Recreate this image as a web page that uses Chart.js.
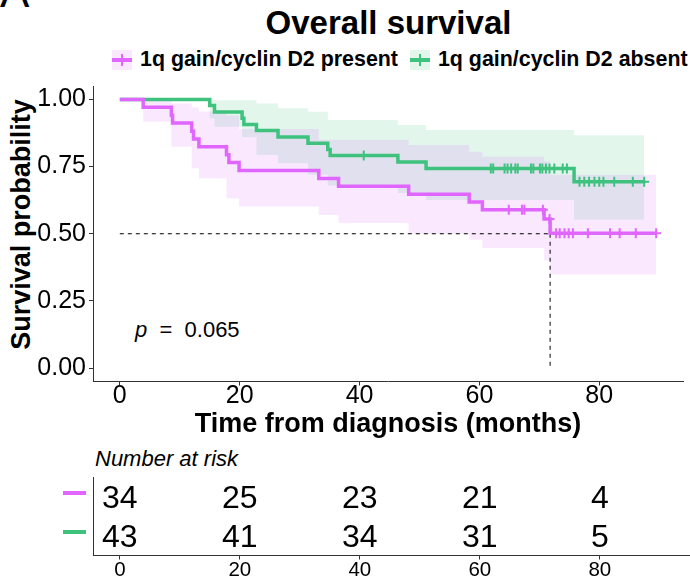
<!DOCTYPE html>
<html><head><meta charset="utf-8">
<script src="https://cdn.jsdelivr.net/npm/chart.js@4"></script>
<style>
body{margin:0;background:#fff;width:690px;height:580px;overflow:hidden;position:relative;font-family:'Liberation Sans',Arial,sans-serif;color:#000;}
canvas{position:absolute;left:0;}
.abs{position:absolute;white-space:nowrap;line-height:1;}
.mk{display:inline-block;position:relative;width:20px;height:20px;margin-right:8px;}
.mk .h{position:absolute;left:0;right:0;top:8px;height:4px;}
.mk .v{position:absolute;left:9px;width:2px;top:4px;height:12px;}
</style></head><body>
<div class="abs" style="left:0;top:-30px;font-size:44px;">A</div>
<div class="abs" style="left:93px;width:591px;top:6px;text-align:center;font-weight:bold;font-size:33px;">Overall survival</div>
<div class="abs" id="legend" style="left:112px;top:49px;font-weight:bold;font-size:21.4px;display:flex;align-items:center;"></div>
<div class="abs" style="left:-129px;width:300px;top:211px;text-align:center;font-weight:bold;font-size:27px;transform:rotate(-90deg);">Survival probability</div>
<div class="abs" style="left:135px;top:319px;font-size:22px;"><i>p</i>&nbsp; = &nbsp;0.065</div>
<div class="abs" style="left:95px;top:448px;font-size:22px;font-style:italic;">Number at risk</div>
<canvas id="main" width="690" height="450" style="top:0"></canvas>
<canvas id="risk" width="690" height="140" style="top:440px"></canvas>
<script>
// ---- data ----
const seriesNames = ['1q gain/cyclin D2 present', '1q gain/cyclin D2 absent'];
const presentTime = [0, 3.9, 8.6, 8.8, 12.0, 12.3, 13.2, 17.8, 18.2, 19.9, 33.2, 36.5, 48.2, 58.3, 60.5, 70.8, 71.8, 89.5];
const presentSurv = [1, 0.971, 0.941, 0.912, 0.882, 0.853, 0.824, 0.794, 0.765, 0.735, 0.706, 0.677, 0.647, 0.618, 0.589, 0.555, 0.502, 0.502];
const presentCensor = [64.9, 67.1, 67.5, 70.6, 71.7, 72.8, 73.4, 74.2, 74.9, 75.6, 78.1, 81.8, 83.4, 86.1, 89.5];
const presentUpperTime = [0, 3.9, 8.6, 12.0, 13.2, 17.8, 19.9, 33.2, 48.2, 58.3, 60.5, 70.8, 71.8, 89.5];
const presentUpper = [1, 0.995, 0.985, 0.97, 0.955, 0.94, 0.89, 0.85, 0.83, 0.805, 0.787, 0.77, 0.72, 0.72];
const presentLowerTime = [0, 3.9, 8.6, 12.0, 13.2, 17.8, 19.9, 33.2, 36.5, 48.2, 58.3, 60.5, 70.8, 71.8, 89.5];
const presentLower = [1, 0.917, 0.824, 0.744, 0.707, 0.632, 0.601, 0.57, 0.54, 0.50, 0.478, 0.447, 0.40, 0.348, 0.348];

const absentTime = [0, 15.0, 15.8, 20.4, 20.7, 22.8, 26.4, 31.4, 34.7, 35.1, 46.4, 51.1, 75.8, 87.5];
const absentSurv = [1, 0.977, 0.953, 0.930, 0.907, 0.884, 0.860, 0.837, 0.814, 0.791, 0.767, 0.743, 0.694, 0.694];
const absentCensor = [40.7, 61.9, 62.3, 64.2, 64.7, 65.3, 66.0, 66.4, 68.6, 69.0, 70.1, 70.5, 71.1, 71.7, 72.5, 73.9, 74.6, 76.7, 77.5, 78.3, 79.2, 80.0, 80.7, 82.5, 85.6, 87.5];
const absentUpperTime = [0, 15.0, 22.8, 26.4, 31.4, 34.7, 46.4, 51.1, 75.8, 87.5];
const absentUpper = [1, 0.997, 0.985, 0.967, 0.954, 0.923, 0.905, 0.886, 0.867, 0.867];
const absentLowerTime = [0, 15.0, 15.8, 20.4, 22.8, 26.4, 31.4, 34.7, 46.4, 51.1, 75.8, 87.5];
const absentLower = [1, 0.93, 0.898, 0.86, 0.793, 0.762, 0.72, 0.68, 0.652, 0.626, 0.552, 0.552];

const medianTime = 71.8;
const medianSurv = 0.5;
const xTicks = [0, 20, 40, 60, 80];
const yTicks = [0, 0.25, 0.5, 0.75, 1];
const riskTimes = [0, 20, 40, 60, 80];
const riskPresent = [34, 25, 23, 21, 4];
const riskAbsent = [43, 41, 34, 31, 5];

// ---- styling ----
const pink = '#E066FF', green = '#3EC27E';
const pinkBand = 'rgba(224,102,255,0.15)', greenBand = 'rgba(62,194,126,0.15)';
const FONT = "'Liberation Sans', Arial, sans-serif";
const X_MIN = -4.475, X_MAX = 93.975;

// legend
const lg = document.getElementById('legend');
[[seriesNames[0], pink, pinkBand], [seriesNames[1], green, greenBand]].forEach(([n, c, b], i) => {
  const s = document.createElement('span');
  s.style.display = 'inline-flex'; s.style.alignItems = 'center';
  if (i === 1) s.style.marginLeft = '12px';
  s.innerHTML = `<span class="mk" style="background:${b}"><span class="h" style="background:${c}"></span><span class="v" style="background:${c}"></span></span>${n}`;
  lg.appendChild(s);
});

const pts = (t, v) => t.map((x, i) => ({x, y: v[i]}));
const survAt = (times, surv, t) => { let s = surv[0]; times.forEach((tt, i) => { if (tt <= t) s = surv[i]; }); return s; };
const censorPts = (c, times, surv) => c.map(t => ({x: t, y: survAt(times, surv, t)}));

const lineDs = (data, color) => ({data, borderColor: color, borderWidth: 3.5, stepped: true, pointRadius: 0, fill: false});
const censDs = (data, color) => ({data, showLine: false, borderColor: color, backgroundColor: color, pointStyle: 'cross', pointRadius: 5, pointBorderWidth: 2, borderWidth: 2});
const bandDs = (data, fill, bg) => ({data, borderWidth: 0, borderColor: 'rgba(0,0,0,0)', backgroundColor: bg, stepped: true, pointRadius: 0, fill});

new Chart(document.getElementById('main'), {
  type: 'line',
  data: { datasets: [
    lineDs(pts(presentTime, presentSurv), pink),
    lineDs(pts(absentTime, absentSurv), green),
    censDs(censorPts(presentCensor, presentTime, presentSurv), pink),
    censDs(censorPts(absentCensor, absentTime, absentSurv), green),
    {data: [{x: 0, y: medianSurv}, {x: medianTime, y: medianSurv}], borderColor: '#000', borderWidth: 1, borderDash: [4, 4], pointRadius: 0, fill: false},
    {data: [{x: medianTime, y: medianSurv}, {x: medianTime, y: 0}], borderColor: '#000', borderWidth: 1, borderDash: [4, 4], pointRadius: 0, fill: false},
    bandDs(pts(presentUpperTime, presentUpper), '+1', pinkBand),
    bandDs(pts(presentLowerTime, presentLower), false, pinkBand),
    bandDs(pts(absentUpperTime, absentUpper), '+1', greenBand),
    bandDs(pts(absentLowerTime, absentLower), false, greenBand),
  ]},
  options: {
    responsive: false, animation: false, devicePixelRatio: 1,
    layout: {padding: {top: 86, right: 6, left: 0, bottom: 0}},
    plugins: {legend: {display: false}, tooltip: {enabled: false}},
    scales: {
      x: {
        type: 'linear', min: X_MIN, max: X_MAX,
        afterBuildTicks: s => { s.ticks = xTicks.map(v => ({value: v})); },
        afterFit: s => { s.height = 68.5; },
        ticks: {color: '#000', font: {family: FONT, size: 25, lineHeight: 1}, padding: -2, maxRotation: 0},
        grid: {drawOnChartArea: false, drawTicks: true, tickLength: 4, color: '#333'},
        border: {display: true, color: '#333', width: 1},
        title: {display: true, text: 'Time from diagnosis (months)', color: '#000', font: {family: FONT, size: 27, weight: 'bold', lineHeight: 1.2}, padding: {top: 0, bottom: 9}}
      },
      y: {
        type: 'linear', min: -0.05, max: 1.05,
        afterBuildTicks: s => { s.ticks = yTicks.map(v => ({value: v})); },
        afterFit: s => { s.width = 93; },
        ticks: {color: '#000', font: {family: FONT, size: 25}, padding: 3, callback: v => v.toFixed(2)},
        grid: {drawOnChartArea: false, drawTicks: true, tickLength: 4, color: '#333'},
        border: {display: true, color: '#333', width: 1}
      }
    }
  }
});

// risk table
const riskPlugin = {
  id: 'riskText',
  afterDatasetsDraw(chart) {
    const {ctx, scales: {x, y}} = chart;
    ctx.save();
    ctx.font = `32px ${FONT}`;
    ctx.textAlign = 'center';
    ctx.textBaseline = 'middle';
    chart.data.datasets.forEach((ds, di) => {
      ctx.fillStyle = '#000';
      ds.data.forEach(p => ctx.fillText(String(p.n), x.getPixelForValue(p.x), y.getPixelForValue(p.y) + 2));
      ctx.fillStyle = ds.rowColor;
      ctx.fillRect(63, y.getPixelForValue(di + 1) - 6, 23, 4);
    });
    ctx.restore();
  }
};
new Chart(document.getElementById('risk'), {
  type: 'scatter',
  data: { datasets: [
    {data: riskTimes.map((t, i) => ({x: t, y: 1, n: riskPresent[i]})), pointRadius: 0, rowColor: pink},
    {data: riskTimes.map((t, i) => ({x: t, y: 2, n: riskAbsent[i]})), pointRadius: 0, rowColor: green},
  ]},
  options: {
    responsive: false, animation: false, devicePixelRatio: 1,
    layout: {padding: {top: 37.5, right: 0, left: 0, bottom: 0}},
    plugins: {legend: {display: false}, tooltip: {enabled: false}},
    scales: {
      x: {
        type: 'linear', min: X_MIN, max: 95.025,
        afterBuildTicks: s => { s.ticks = riskTimes.map(v => ({value: v})); },
        afterFit: s => { s.height = 24.5; },
        ticks: {color: '#000', font: {family: FONT, size: 20.5, lineHeight: 1}, padding: 1, maxRotation: 0},
        grid: {drawOnChartArea: false, drawTicks: true, tickLength: 4, color: '#333'},
        border: {display: true, color: '#333', width: 1}
      },
      y: {
        type: 'linear', min: 0.5, max: 2.5, reverse: true,
        afterFit: s => { s.width = 93; },
        ticks: {display: false},
        grid: {display: false},
        border: {display: true, color: '#333', width: 1}
      }
    }
  },
  plugins: [riskPlugin]
});
</script>
</body></html>
